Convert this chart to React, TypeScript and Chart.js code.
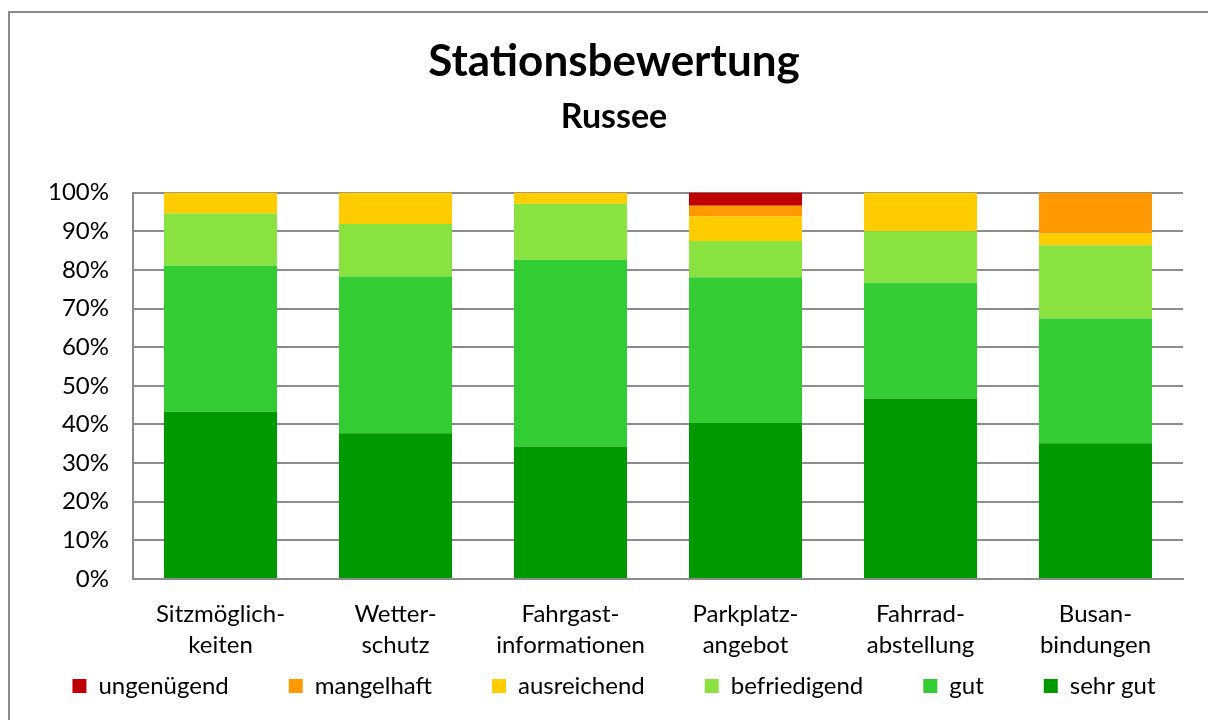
import React, { useEffect, useRef } from "react";
import { Chart, registerables } from "chart.js";

Chart.register(...registerables);

const categories: string[][] = [
  ["Sitzmöglich-", "keiten"],
  ["Wetter-", "schutz"],
  ["Fahrgast-", "informationen"],
  ["Parkplatz-", "angebot"],
  ["Fahrrad-", "abstellung"],
  ["Busan-", "bindungen"],
];

const sehrGut = [43.3, 37.7, 34.3, 40.5, 46.7, 35.1];
const gut = [37.8, 40.6, 48.3, 37.6, 30.0, 32.3];
const befriedigend = [13.5, 13.6, 14.5, 9.4, 13.3, 19.0];
const ausreichend = [5.4, 8.1, 2.9, 6.3, 10.0, 3.0];
const mangelhaft = [0, 0, 0, 2.8, 0, 10.6];
const ungenuegend = [0, 0, 0, 3.4, 0, 0];

const seriesNames = ["sehr gut", "gut", "befriedigend", "ausreichend", "mangelhaft", "ungenügend"];
const seriesColors = ["#009900", "#33CC33", "#8AE241", "#FFCC00", "#FF9900", "#C00000"];

const titleText = "Stationsbewertung";
const subtitleText = "Russee";

const FONT = "Lato";
const GRID = "#8c8c8c";

export default function App() {
  const ref = useRef<HTMLCanvasElement>(null);

  useEffect(() => {
    if (!ref.current) return;
    const values = [sehrGut, gut, befriedigend, ausreichend, mangelhaft, ungenuegend];
    const chart = new Chart(ref.current, {
      type: "bar",
      data: {
        labels: categories,
        datasets: values.map((v, i) => ({
          label: seriesNames[i],
          data: v,
          backgroundColor: seriesColors[i],
          borderWidth: 0,
          categoryPercentage: 1,
          barPercentage: 0.646,
        })),
      },
      options: {
        responsive: false,
        animation: false,
        layout: { padding: { left: 0, right: 0, top: 0, bottom: 12 } },
        plugins: {
          title: {
            display: true,
            text: titleText,
            color: "#000",
            font: { family: FONT, size: 44, weight: "bold", lineHeight: 1.2 },
            padding: { top: 35, bottom: 0 },
          },
          subtitle: {
            display: true,
            text: subtitleText,
            color: "#000",
            font: { family: FONT, size: 34, weight: "bold", lineHeight: 1.2 },
            padding: { top: 9, bottom: 55 },
          },
          legend: {
            position: "bottom",
            reverse: true,
            labels: {
              color: "#000",
              font: { family: FONT, size: 24 },
              boxWidth: 14,
              boxHeight: 14,
              padding: 60,
            },
          },
          tooltip: { enabled: false },
        },
        scales: {
          x: {
            stacked: true,
            grid: { display: false, drawTicks: false },
            border: { display: true, color: GRID, width: 2 },
            ticks: {
              color: "#000",
              font: { family: FONT, size: 24, lineHeight: 1.29 },
              padding: -51,
              mirror: true,
              maxRotation: 0,
              autoSkip: false,
            },
            afterFit: (s: any) => {
              s.height = 35;
            },
          },
          y: {
            stacked: true,
            min: 0,
            max: 100,
            grid: { color: GRID, lineWidth: 2, drawTicks: false },
            border: { display: true, color: GRID, width: 2 },
            ticks: {
              stepSize: 10,
              color: "#000",
              font: { family: FONT, size: 24 },
              padding: 24,
              callback: (v: any) => v + "%",
            },
            afterFit: (s: any) => {
              s.width = 133;
            },
          },
          y2: {
            position: "right",
            display: true,
            grid: { display: false, drawTicks: false },
            border: { display: false },
            ticks: { display: false },
            afterFit: (s: any) => {
              s.width = 45;
            },
          },
        },
      },
    });
    return () => chart.destroy();
  }, []);

  return (
    <div
      style={{
        position: "fixed",
        left: 0,
        top: 0,
        width: 1208,
        height: 720,
        overflow: "hidden",
        background: "#fff",
      }}
    >
      <div
        style={{
          position: "absolute",
          left: 8,
          top: 11,
          width: 1400,
          height: 900,
          borderLeft: "2px solid #8a8a8a",
          borderTop: "2px solid #8a8a8a",
        }}
      />
      <canvas
        ref={ref}
        width={1228}
        height={720}
        style={{ position: "absolute", left: 0, top: 0, width: 1228, height: 720, display: "block" }}
      />
    </div>
  );
}
